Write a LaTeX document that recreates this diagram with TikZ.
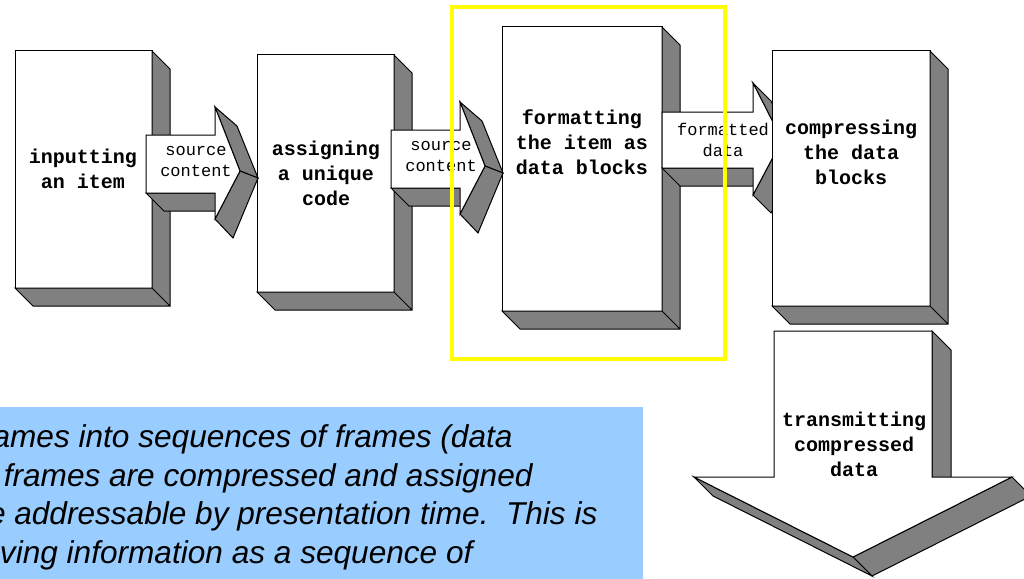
\documentclass[tikz,border=0pt]{standalone}
\usepackage{fontspec}
\setmainfont{Liberation Serif}
\setsansfont{Liberation Sans}
\setmonofont{Liberation Mono}
\definecolor{shadegray}{RGB}{128,128,128}
\definecolor{notefill}{RGB}{153,204,255}
\definecolor{markyellow}{RGB}{255,255,0}
\begin{document}
\begin{tikzpicture}[x=1pt,y=-1pt,line width=1pt,
    face/.style={draw=black,fill=white,inner sep=0pt,outer sep=0pt},
    side/.style={draw=black,fill=shadegray},
    boxlabel/.style={inner sep=0pt,align=center,font=\ttfamily\bfseries\fontsize{20}{25}\selectfont},
    arrowlabel/.style={inner sep=0pt,align=center,font=\ttfamily\fontsize{17}{21}\selectfont},
    notetext/.style={inner sep=0pt,anchor=base east,font=\sffamily\itshape\fontsize{31.6}{38}\selectfont}]
  \useasboundingbox (0,0) rectangle (1024,578);
  \clip (0,0) rectangle (1024,578);

  % note at the bottom
  \fill[notefill] (-5,407) rectangle (643,590);
  \node[notetext] (note1) at (513,447) {ames into sequences of frames (data};
  \node[notetext] (note2) at (533,486) {frames are compressed and assigned};
  \node[notetext] (note3) at (598,524) {e addressable by presentation time.~~This is};
  \node[notetext] (note4) at (473,563) {ving information as a sequence of};

  % blocks
  \node[face,minimum width=137pt,minimum height=237pt] (input) at (83.5,169.5) {};
  \draw[side] (input.north east) -- ++(18,18) -- ([shift={(18,18)}]input.south east)
    -- ([shift={(18,18)}]input.south west) -- (input.south west) -- (input.south east) -- cycle
    (input.south east) -- ++(18,18);
  \node[boxlabel] (inputlbl) at (83,169) {inputting\\an item};

  \node[face,minimum width=137pt,minimum height=237pt] (assign) at (325.5,173.5) {};
  \draw[side] (assign.north east) -- ++(18,18) -- ([shift={(18,18)}]assign.south east)
    -- ([shift={(18,18)}]assign.south west) -- (assign.south west) -- (assign.south east) -- cycle
    (assign.south east) -- ++(18,18);
  \node[boxlabel] (assignlbl) at (326,173) {assigning\\a unique\\code};

  \node[face,minimum width=160pt,minimum height=284pt] (format) at (582,169) {};
  \draw[side] (format.north east) -- ++(18,18) -- ([shift={(18,18)}]format.south east)
    -- ([shift={(18,18)}]format.south west) -- (format.south west) -- (format.south east) -- cycle
    (format.south east) -- ++(18,18);
  \node[boxlabel] (formatlbl) at (582,142) {formatting\\the item as\\data blocks};

  % arrows between blocks
  \begin{scope}[shift={(146,135)}]
    \draw[side] (0,58) -- (69,58) -- (87,76) -- (18,76) -- cycle;
    \draw[side] (69,-28) -- (91,-9) -- (112,43) -- (94,36) -- cycle;
    \draw[side] (94,36) -- (112,43) -- (87,103) -- (69,84) -- cycle;
    \draw[face] (0,0) -- (69,0) -- (69,-28) -- (94,36) -- (69,84) -- (69,58) -- (0,58) -- cycle;
  \end{scope}
  \node[arrowlabel] (src1) at (196,162) {source\\content};

  \begin{scope}[shift={(391,130)}]
    \draw[side] (0,58) -- (69,58) -- (87,76) -- (18,76) -- cycle;
    \draw[side] (69,-28) -- (91,-9) -- (112,43) -- (94,36) -- cycle;
    \draw[side] (94,36) -- (112,43) -- (87,103) -- (69,84) -- cycle;
    \draw[face] (0,0) -- (69,0) -- (69,-28) -- (94,36) -- (69,84) -- (69,58) -- (0,58) -- cycle;
  \end{scope}
  \node[arrowlabel] (src2) at (441,157) {source\\content};

  \begin{scope}[shift={(662,112)}]
    \draw[side] (0,56) -- (91,56) -- (109,74) -- (18,74) -- cycle;
    \draw[side] (91,-29) -- (109,-11) -- (138,46) -- (120,28) -- cycle;
    \draw[side] (120,28) -- (138,46) -- (109,101) -- (91,83) -- cycle;
    \draw[face] (0,0) -- (91,0) -- (91,-29) -- (120,28) -- (91,83) -- (91,56) -- (0,56) -- cycle;
  \end{scope}
  \node[arrowlabel] (fmtdata) at (723,140) {formatted\\data};

  \node[face,minimum width=158pt,minimum height=255pt] (compress) at (851,178.5) {};
  \draw[side] (compress.north east) -- ++(18,18) -- ([shift={(18,18)}]compress.south east)
    -- ([shift={(18,18)}]compress.south west) -- (compress.south west) -- (compress.south east) -- cycle
    (compress.south east) -- ++(18,18);
  \node[boxlabel] (compresslbl) at (851,152) {compressing\\the data\\blocks};

  % arrow pointing down
  \draw[side] (932,331) -- (951,350) -- (951,496) -- (932,477) -- cycle;
  \draw[side] (1012,477) -- (1031,496) -- (872,576) -- (853,557) -- cycle;
  \draw[side] (853,557) -- (872,576) -- (713,496) -- (694,477) -- cycle;
  \draw[face] (774,331) -- (932,331) -- (932,477) -- (1012,477) -- (853,557) -- (694,477) -- (774,477) -- cycle;
  \node[boxlabel] (xmit) at (854,444) {transmitting\\compressed\\data};

  % highlight
  \draw[markyellow,line width=4pt] (452,7) rectangle (725,359);
\end{tikzpicture}
\end{document}
